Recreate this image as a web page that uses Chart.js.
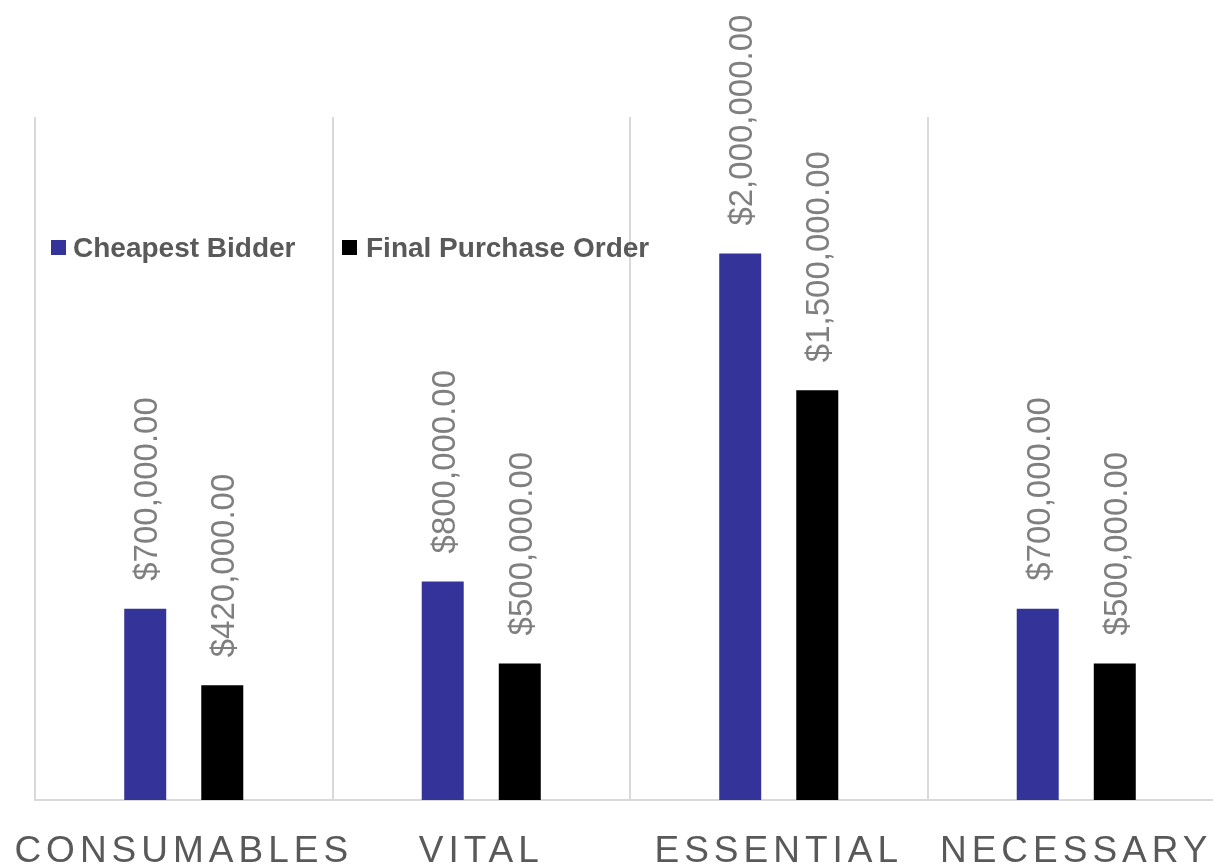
<!DOCTYPE html>
<html lang="en">
<head>
    <meta charset="UTF-8">
    <title>Cheapest Bidder vs Final Purchase Order</title>
    <script src="https://cdn.jsdelivr.net/npm/chart.js"></script>
    <style>
        html, body {
            margin: 0;
            padding: 0;
            background: #ffffff;
            overflow: hidden;
        }
        #wrap {
            position: relative;
            width: 1240px;
            height: 865px;
        }
    </style>
</head>
<body>
    <div id="wrap"><canvas id="bidChart"></canvas></div>

    <script>
        // Chart data
        const categories = ['CONSUMABLES', 'VITAL', 'ESSENTIAL', 'NECESSARY'];
        const cheapestBidder = [700000, 800000, 2000000, 700000];
        const finalPurchaseOrder = [420000, 500000, 1500000, 500000];
        const seriesNames = ['Cheapest Bidder', 'Final Purchase Order'];
        const seriesColors = ['#333399', '#000000'];

        function money(v) {
            return '$' + v.toLocaleString('en-US', { minimumFractionDigits: 2, maximumFractionDigits: 2 });
        }

        // Draws the rotated value labels and the legend; category labels get wide spacing
        const labelsPlugin = {
            id: 'labelsPlugin',
            beforeDraw(chart) {
                // x tick labels are drawn before the datasets
                chart.ctx.letterSpacing = '5px';
            },
            afterDatasetsDraw(chart) {
                const ctx = chart.ctx;
                ctx.letterSpacing = '0px';
                ctx.save();
                ctx.font = '33px "Liberation Sans", Arial, sans-serif';
                ctx.fillStyle = '#7f7f7f';
                ctx.textAlign = 'left';
                ctx.textBaseline = 'middle';
                chart.data.datasets.forEach((ds, i) => {
                    chart.getDatasetMeta(i).data.forEach((bar, j) => {
                        ctx.save();
                        ctx.translate(bar.x + 3, bar.y - 28);
                        ctx.rotate(-Math.PI / 2);
                        ctx.fillText(money(ds.data[j]), 0, 0);
                        ctx.restore();
                    });
                });

                // legend
                ctx.font = 'bold 28px "Liberation Sans", Arial, sans-serif';
                ctx.textBaseline = 'alphabetic';
                const items = [{ box: 51, text: 73 }, { box: 342, text: 366 }];
                items.forEach((it, i) => {
                    ctx.fillStyle = seriesColors[i];
                    ctx.fillRect(it.box, 240, 15, 15);
                    ctx.fillStyle = '#595959';
                    ctx.fillText(seriesNames[i], it.text, 257);
                });
                ctx.restore();
            },
            afterDraw(chart) {
                chart.ctx.letterSpacing = '0px';
            }
        };

        const ctx = document.getElementById('bidChart').getContext('2d');
        new Chart(ctx, {
            type: 'bar',
            data: {
                labels: categories,
                datasets: [
                    {
                        label: seriesNames[0],
                        data: cheapestBidder,
                        backgroundColor: seriesColors[0],
                        categoryPercentage: 0.518,
                        barPercentage: 0.545
                    },
                    {
                        label: seriesNames[1],
                        data: finalPurchaseOrder,
                        backgroundColor: seriesColors[1],
                        categoryPercentage: 0.518,
                        barPercentage: 0.545
                    }
                ]
            },
            options: {
                responsive: true,
                maintainAspectRatio: false,
                animation: false,
                layout: {
                    padding: { left: 35, right: 15, top: 117, bottom: 0 }
                },
                plugins: {
                    legend: { display: false },
                    tooltip: { enabled: false }
                },
                scales: {
                    x: {
                        grid: {
                            display: true,
                            color: '#d9d9d9',
                            lineWidth: 2,
                            drawTicks: false
                        },
                        border: { color: '#d9d9d9', width: 2 },
                        ticks: {
                            autoSkip: false,
                            maxRotation: 0,
                            color: '#595959',
                            padding: 33,
                            font: { family: '"Liberation Sans", Arial, sans-serif', size: 37, lineHeight: 1 }
                        },
                        afterFit(scale) {
                            scale.height = 65;
                        }
                    },
                    y: {
                        display: false,
                        min: 0,
                        max: 2500000
                    }
                }
            },
            plugins: [labelsPlugin]
        });
    </script>
</body>
</html>
